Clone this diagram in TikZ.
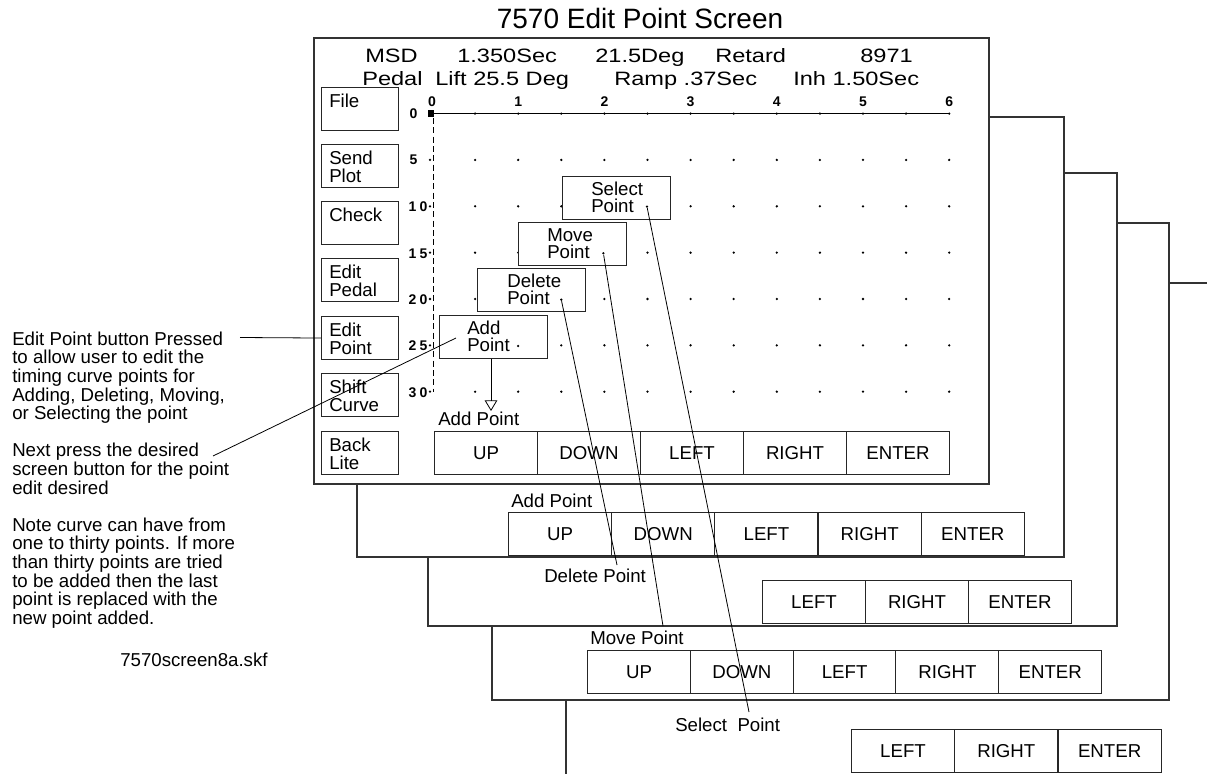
\documentclass[tikz,border=0pt]{standalone}
\usepackage{fontspec}
\setmainfont{Liberation Sans}
\newfontfamily\hdrfont[FakeStretch=1.22]{Liberation Sans}
\usetikzlibrary{arrows.meta}
\newcommand\fsz[2]{\fontsize{#1}{#2}\selectfont}
\begin{document}
\begin{tikzpicture}[x=0.75pt,y=-0.75pt,
  frame/.style={draw=black!80, line width=0.8pt, fill=white},
  cell/.style={draw=black!85, line width=0.8pt, fill=white, minimum width=77.25pt, minimum height=32.25pt, inner sep=0pt, anchor=north west, font=\fsz{14}{16}},
  btn/.style={draw=black!85, line width=0.8pt, fill=white, minimum width=57.75pt, minimum height=32.25pt, inner sep=0pt, anchor=north west},
  btntext/.style={anchor=north west, align=left, inner sep=0pt, font=\fsz{14}{13.9}},
  popup/.style={draw=black!85, line width=0.8pt, fill=white, minimum width=81pt, minimum height=32.25pt, inner sep=0pt, anchor=north west},
  ptxt/.style={anchor=north west, align=left, inner sep=0pt, font=\fsz{14}{12.75}},
  lbl/.style={anchor=west, inner sep=0pt, font=\fsz{14}{16}},
  note/.style={anchor=north west, align=left, inner sep=0pt, font=\fsz{14}{13.95}},
  hdr/.style={anchor=base west, inner sep=0pt, font=\hdrfont\fsz{14.5}{17}},
  axl/.style={inner sep=0pt, font=\fsz{10.5}{12}\bfseries},
  conn/.style={draw=black, line width=0.6pt},
  gdot/.style={fill=black, circle, inner sep=0pt, minimum size=1.9pt}
]
\useasboundingbox (0,0) rectangle (1207,774);
\begin{scope}
\clip (0,0) rectangle (1207,774);

% title
\node[font=\fsz{21}{24}] (title) at (640,18) {7570 Edit Point Screen};

% ---------- stacked screens (back to front) ----------
% box 5 (Select Point)
\draw[frame] (566,283) rectangle (1260,820);
\node[lbl] (sellbl) at (675,725) {Select~ Point};
\foreach \t [count=\i from 0] in {LEFT,RIGHT,ENTER}
  \node[cell] (s\i) at ({851+103.3*\i},729) {\t};

% box 4 (Move Point)
\draw[frame] (492,223) rectangle (1169,700);
\node[lbl] (movlbl) at (590,638) {Move Point};
\foreach \t [count=\i from 0] in {UP,DOWN,LEFT,RIGHT,ENTER}
  \node[cell] (v\i) at ({587+102.8*\i},650) {\t};

% box 3 (Delete Point)
\draw[frame] (428,173) rectangle (1117,626);
\node[lbl] (dellbl) at (544,576) {Delete Point};
\foreach \t [count=\i from 0] in {LEFT,RIGHT,ENTER}
  \node[cell] (d\i) at ({762+103*\i},580) {\t};

% box 2 (Add Point)
\draw[frame] (357,117) rectangle (1064,557);
\node[lbl] (addlbl2) at (511,501) {Add Point};
\foreach \t [count=\i from 0] in {UP,DOWN,LEFT,RIGHT,ENTER}
  \node[cell] (a\i) at ({508+103.2*\i},512) {\t};

% ---------- main screen ----------
\draw[frame] (314,38) rectangle (989,484);

% header
\node[hdr] (h1) at (365,63) {MSD};
\node[hdr] (h2) at (457,63) {1.350Sec};
\node[hdr] (h3) at (595,63) {21.5Deg};
\node[hdr] (h4) at (715,63) {Retard};
\node[hdr] (h5) at (860,63) {8971};
\node[hdr] (h6) at (362,85) {Pedal};
\node[hdr] (h7) at (435,85) {Lift 25.5 Deg};
\node[hdr] (h8) at (614,85) {Ramp .37Sec};
\node[hdr] (h9) at (793,85) {Inh 1.50Sec};

% side buttons
\foreach \n/\t/\y in {bFile/File/87, bSend/{Send\\Plot}/144, bCheck/Check/201, bPedal/{Edit\\Pedal}/258, bPoint/{Edit\\Point}/316, bShift/{Shift\\Curve}/373, bBack/{Back\\Lite}/431}{
  \node[btn] (\n) at (321,\y) {};
  \node[btntext] at ([shift={(8,6.5)}]\n.north west) {\t};
}

% grid
\foreach \m in {1,...,12}{
  \node[gdot] at ({432+43.1*\m},113.6) {};
  \foreach \j in {1,...,6}
    \node[gdot] at ({432+43.1*\m},{113.6+46.35*\j}) {};
}
\foreach \j in {1,...,6}
  \node[gdot] at (430,{113.6+46.35*\j}) {};
\draw[line width=0.9pt] (431,113.6) -- (949,113.6);
\node[fill=black, minimum size=5pt, inner sep=0pt] (origin) at (431,113.6) {};
\draw[line width=0.6pt, dash pattern=on 4.5pt off 2.5pt] (433,118) -- (433,392);
\foreach \c [count=\k from 0] in {0,1,2,3,4,5,6}
  \node[axl] (col\c) at ({432+86.2*\k},102) {\c};
\node[axl] (r0) at (413.5,113.6) {0};
\node[axl] (r5) at (413.5,160) {5};
\node[axl] (r10) at (418,206.7) {1\kern2.5pt0};
\node[axl] (r15) at (418,253.3) {1\kern2.5pt5};
\node[axl] (r20) at (418,299.7) {2\kern2.5pt0};
\node[axl] (r25) at (418,346) {2\kern2.5pt5};
\node[axl] (r30) at (418,392.4) {3\kern2.5pt0};

% popups
\node[popup] (selpop) at (562,176) {};
\node[ptxt] at ([shift={(29,6)}]selpop.north west) {Select\\Point};
\node[popup] (movpop) at (518,222) {};
\node[ptxt] at ([shift={(29,6)}]movpop.north west) {Move\\Point};
\node[popup] (delpop) at (477,268) {};
\node[ptxt] at ([shift={(30,6)}]delpop.north west) {Delete\\Point};
\node[popup] (addpop) at (439,315) {};
\node[ptxt] at ([shift={(28,6)}]addpop.north west) {Add\\Point};
\node[gdot] (seldot) at (647,206.7) {};
\node[gdot] (movdot) at (603.4,253.3) {};
\node[gdot] (deldot) at (561.3,299.7) {};
\node[gdot] (adddot) at (518.2,346) {};

% main strip
\node[lbl] (addlbl) at (438,419) {Add Point};
\foreach \t [count=\i from 0] in {UP,DOWN,LEFT,RIGHT,ENTER}
  \node[cell] (m\i) at ({434+103*\i},431) {\t};

% add arrow
\coordinate (addtip) at (491,411);
\draw[conn, -{Triangle[open, width=9.5pt, length=8pt]}] (addpop.south -| addtip) -- (addtip);

% ---------- left notes ----------
\node[note] (n1) at (12,331.5) {Edit Point button Pressed\\to allow user to edit the\\timing curve points for\\Adding, Deleting, Moving,\\or Selecting the point};
\node[note] (n2) at (12,443.1) {Next press the desired\\screen button for the point\\edit desired};
\node[note] (n3) at (12,517.5) {Note curve can have from\\one to thirty points. If more\\than thirty points are tried\\to be added then the last\\point is replaced with the\\new point added.};
\node[lbl] (skf) at (120,660) {7570screen8a.skf};

\coordinate (n1end) at (240,337.5);
\draw[conn] (n1end) -- (bPoint.west);
\coordinate (n2end) at (213,456);
\coordinate (addhit) at (456,338);
\draw[conn] (n2end) -- (addhit);

% ---------- connectors to the lower screens ----------
\coordinate (delend) at (617,565);
\coordinate (movend) at (663,626);
\coordinate (selend) at (749,712);
\draw[conn] (deldot) -- (delend);
\draw[conn] (movdot) -- (movend);
\draw[conn] (seldot) -- (selend);
\end{scope}
\end{tikzpicture}
\end{document}
